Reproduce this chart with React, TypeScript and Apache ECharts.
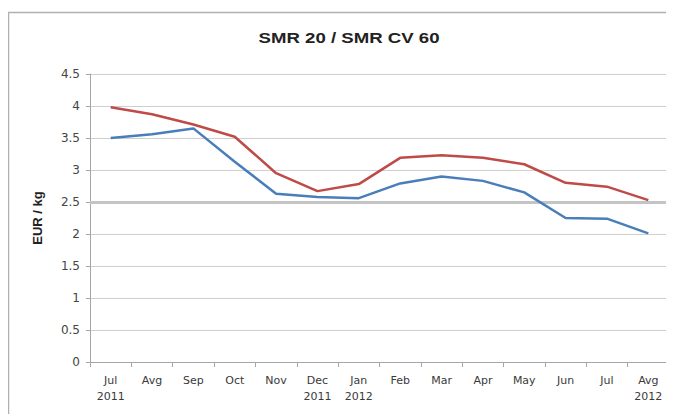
import React, { useEffect, useRef } from "react";
import * as echarts from "echarts";

const categories = [
  "Jul\n2011", "Avg", "Sep", "Oct", "Nov", "Dec\n2011", "Jan\n2012",
  "Feb", "Mar", "Apr", "May", "Jun", "Jul", "Avg\n2012",
];
const smr20 = [3.5, 3.56, 3.65, 3.13, 2.63, 2.58, 2.56, 2.79, 2.9, 2.83, 2.65, 2.25, 2.24, 2.01];
const smrCv60 = [3.98, 3.87, 3.71, 3.52, 2.95, 2.67, 2.78, 3.19, 3.23, 3.19, 3.09, 2.8, 2.74, 2.53];
const yMin = 0;
const yMax = 4.5;
const yStep = 0.5;
const highlightLevel = 2.5;
const titleText = "SMR 20 / SMR CV 60";

export default function App() {
  const ref = useRef<HTMLDivElement>(null);
  useEffect(() => {
    if (!ref.current) return;
    const chart = echarts.init(ref.current, null, { renderer: "svg" });
    const font = "'Liberation Sans', Arial, sans-serif";
    const wide = "'DejaVu Sans', sans-serif";
    chart.setOption({
      animation: false,
      backgroundColor: "#ffffff",
      graphic: [
        { type: "line", shape: { x1: 13, y1: 6, x2: 674, y2: 6 }, style: { stroke: "#9a9a9a", lineWidth: 2 } },
        { type: "line", shape: { x1: 2.5, y1: 9, x2: 2.5, y2: 414 }, style: { stroke: "#9a9a9a", lineWidth: 2 } },
        { type: "line", shape: { x1: 8, y1: 12.5, x2: 674, y2: 12.5 }, style: { stroke: "#b0b0b0", lineWidth: 1.5 } },
        { type: "line", shape: { x1: 8.5, y1: 12, x2: 8.5, y2: 414 }, style: { stroke: "#b0b0b0", lineWidth: 1.5 } },
        { type: "rect", shape: { x: 0, y: 0, width: 4, height: 4 }, style: { fill: "#555" } },
        {
          type: "text",
          x: 349,
          y: 38,
          scaleX: 1.33,
          style: {
            text: titleText,
            font: "bold 14px 'Liberation Sans', Arial, sans-serif",
            fill: "#222",
            align: "center",
            verticalAlign: "middle",
          },
        },
      ],
      grid: { left: 90, right: 5, top: 74, bottom: 52, containLabel: false },
      xAxis: {
        type: "category",
        data: categories,
        boundaryGap: true,
        axisLine: { lineStyle: { color: "#a6a6a6", width: 1 } },
        axisTick: { show: true, length: 5, lineStyle: { color: "#a6a6a6" } },
        axisLabel: {
          interval: 0,
          margin: 10,
          fontFamily: wide,
          fontSize: 11,
          lineHeight: 16,
          color: "#3a3a3a",
        },
        splitLine: { show: false },
      },
      yAxis: {
        type: "value",
        min: yMin,
        max: yMax,
        interval: yStep,
        name: "EUR / kg",
        nameLocation: "middle",
        nameGap: 46,
        nameTextStyle: { fontFamily: font, fontSize: 13, fontWeight: "bold", color: "#222" },
        axisLine: { show: true, lineStyle: { color: "#a6a6a6" } },
        axisTick: { show: true, length: 4, lineStyle: { color: "#a6a6a6" } },
        axisLabel: { fontFamily: wide, fontSize: 12, color: "#444", margin: 10 },
        splitLine: { show: true, lineStyle: { color: "#cfcfcf", width: 1 } },
      },
      series: [
        {
          name: "ref",
          type: "line",
          data: [],
          z: 1,
          silent: true,
          markLine: {
            z: 1,
            silent: true,
            symbol: "none",
            label: { show: false },
            lineStyle: { color: "#c4c4c4", width: 3, type: "solid" },
            data: [{ yAxis: highlightLevel }],
          },
        },
        {
          name: "SMR 20",
          type: "line",
          data: smr20,
          symbol: "none",
          z: 3,
          lineStyle: { color: "#4a7ebb", width: 2.5 },
        },
        {
          name: "SMR CV 60",
          type: "line",
          data: smrCv60,
          symbol: "none",
          z: 4,
          lineStyle: { color: "#be4b48", width: 2.5 },
        },
      ],
    });
    return () => chart.dispose();
  }, []);
  return <div ref={ref} style={{ width: 674, height: 414, marginLeft: -8, marginTop: -8 }} />;
}
